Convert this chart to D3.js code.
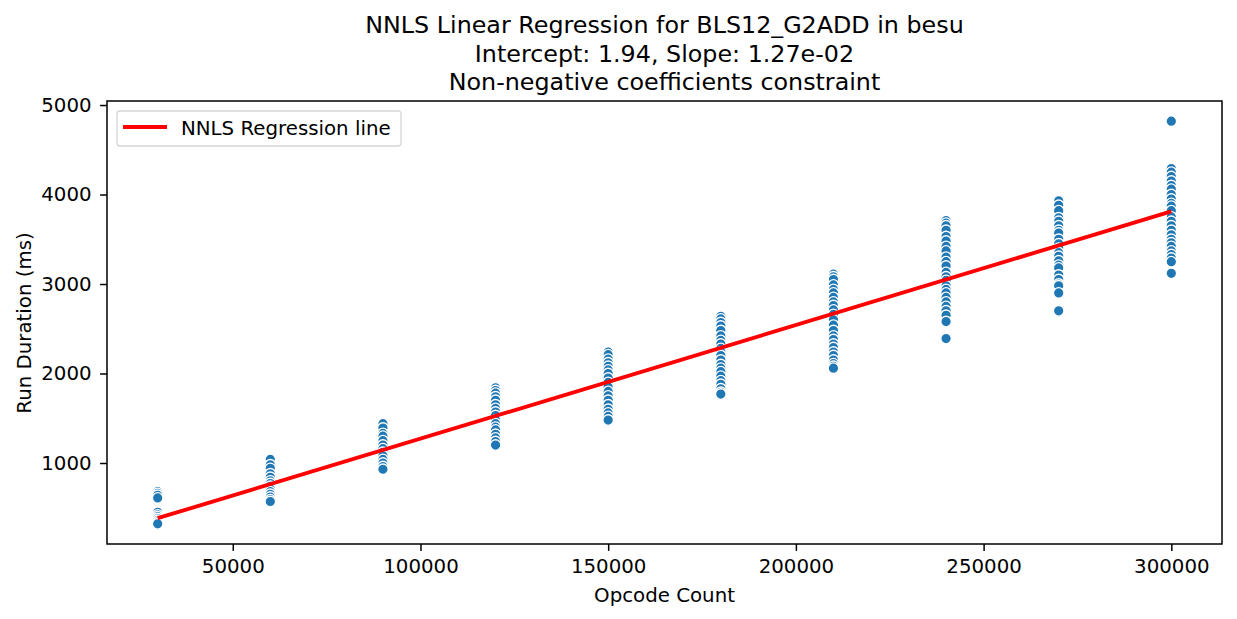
<!DOCTYPE html>
<html><head><meta charset="utf-8">
<script src="https://cdn.jsdelivr.net/npm/d3@7"></script>
<style>
body{margin:0;background:#fff;}
text{font-family:"DejaVu Sans",sans-serif;fill:#000;}
</style></head>
<body><svg id="c" width="1237" height="619"></svg>
<script>
const titleLines = ["NNLS Linear Regression for BLS12_G2ADD in besu","Intercept: 1.94, Slope: 1.27e-02","Non-negative coefficients constraint"];
const xLabel = "Opcode Count";
const yLabel = "Run Duration (ms)";
const legendLabel = "NNLS Regression line";
const intercept = 1.94;
const slope = 0.0127;
const xTicks = [50000,100000,150000,200000,250000,300000];
const yTicks = [1000,2000,3000,4000,5000];
const opcodeCounts = [30000,60000,90000,120000,150000,180000,210000,240000,270000,300000];
const d30000 = [680,660,640,610,450,420,400,380,360,340,320];
const d60000 = [1040,980,940,880,840,800,770,740,710,680,650,620,590,570];
const d90000 = [1440,1390,1330,1300,1250,1200,1160,1120,1080,1040,1000,960,930];
const d120000 = [1840,1810,1780,1740,1700,1650,1610,1570,1530,1480,1440,1400,1370,1320,1280,1240,1200];
const d150000 = [2240,2210,2160,2120,2080,2040,2000,1950,1900,1850,1800,1750,1700,1650,1600,1560,1520,1480];
const d180000 = [2640,2610,2570,2530,2480,2420,2370,2330,2280,2240,2200,2150,2100,2060,2020,1970,1920,1880,1830,1790,1770];
const d210000 = [3110,3080,3050,2990,2940,2900,2850,2800,2760,2710,2660,2600,2540,2480,2420,2380,2330,2290,2240,2200,2150,2110,2080,2060];
const d240000 = [3710,3680,3650,3600,3530,3480,3420,3370,3300,3250,3200,3130,3080,3040,2980,2940,2900,2850,2800,2750,2700,2650,2580,2390];
const d270000 = [3930,3880,3820,3740,3700,3650,3600,3570,3500,3450,3400,3350,3310,3260,3210,3180,3100,3050,3000,2980,2900,2700];
const d300000 = [4820,4290,4250,4200,4150,4100,4060,4000,3950,3900,3870,3820,3750,3700,3650,3600,3550,3500,3460,3420,3370,3330,3290,3250,3120];
const durations = [d30000,d60000,d90000,d120000,d150000,d180000,d210000,d240000,d270000,d300000];

const points = [];
opcodeCounts.forEach((c,i)=>durations[i].forEach(v=>points.push({x:c,y:v})));

const svg = d3.select("#c");
const L=107, R=1222, T=101, B=544;
const xExt = d3.extent(points,d=>d.x), yExt = d3.extent(points,d=>d.y);
const xPad=(xExt[1]-xExt[0])*0.05, yPad=(yExt[1]-yExt[0])*0.05;
const x = d3.scaleLinear().domain([xExt[0]-xPad,xExt[1]+xPad]).range([L,R]);
const y = d3.scaleLinear().domain([yExt[0]-yPad,yExt[1]+yPad]).range([B,T]);

const FS = 19.8;
// axes
const xa = svg.append("g").attr("transform",`translate(0,${B})`)
  .call(d3.axisBottom(x).tickValues(xTicks).tickFormat(d3.format("d")).tickSize(6.9).tickPadding(10.5));
const ya = svg.append("g").attr("transform",`translate(${L},0)`)
  .call(d3.axisLeft(y).tickValues(yTicks).tickFormat(d3.format("d")).tickSize(6.9).tickPadding(8.5));
[xa,ya].forEach(g=>{
  g.select(".domain").remove();
  g.selectAll("line").attr("stroke","#000").attr("stroke-width",1.5);
  g.selectAll("text").attr("font-family","DejaVu Sans").attr("font-size",FS).attr("fill","#000");
});
xa.selectAll("text").attr("dy","0.6em");

// points
svg.append("g").selectAll("circle").data(points).join("circle")
  .attr("cx",d=>x(d.x)).attr("cy",d=>y(d.y)).attr("r",5.3)
  .attr("fill","#1f77b4").attr("stroke","#fff").attr("stroke-width",1.4);

// regression line
const lineX = d3.extent(opcodeCounts);
svg.append("path").datum(lineX.map(v=>({x:v,y:intercept+slope*v})))
  .attr("d",d3.line().x(d=>x(d.x)).y(d=>y(d.y)))
  .attr("fill","none").attr("stroke","#ff0000").attr("stroke-width",3.9);

// frame
svg.append("rect").attr("x",L).attr("y",T).attr("width",R-L).attr("height",B-T)
  .attr("fill","none").attr("stroke","#000").attr("stroke-width",1.5);

// legend
const lg = svg.append("g");
lg.append("rect").attr("x",117).attr("y",111).attr("width",284).attr("height",35).attr("rx",3)
  .attr("fill","#fff").attr("fill-opacity",0.8).attr("stroke","#d6d6d6").attr("stroke-width",1.3);
lg.append("line").attr("x1",123).attr("x2",167).attr("y1",127).attr("y2",127)
  .attr("stroke","#ff0000").attr("stroke-width",3.9);
lg.append("text").attr("x",181).attr("y",128).attr("dy","0.35em").attr("font-size",FS).text(legendLabel);

// titles
svg.append("g").selectAll("text").data(titleLines).join("text")
  .attr("x",(L+R)/2).attr("y",(d,i)=>33+i*28.7).attr("text-anchor","middle")
  .attr("font-size",23.8).text(d=>d);
svg.append("text").attr("x",(L+R)/2).attr("y",602).attr("text-anchor","middle").attr("font-size",FS).text(xLabel);
svg.append("text").attr("transform","translate(30.5,323) rotate(-90)").attr("text-anchor","middle").attr("font-size",FS).text(yLabel);
</script></body></html>
